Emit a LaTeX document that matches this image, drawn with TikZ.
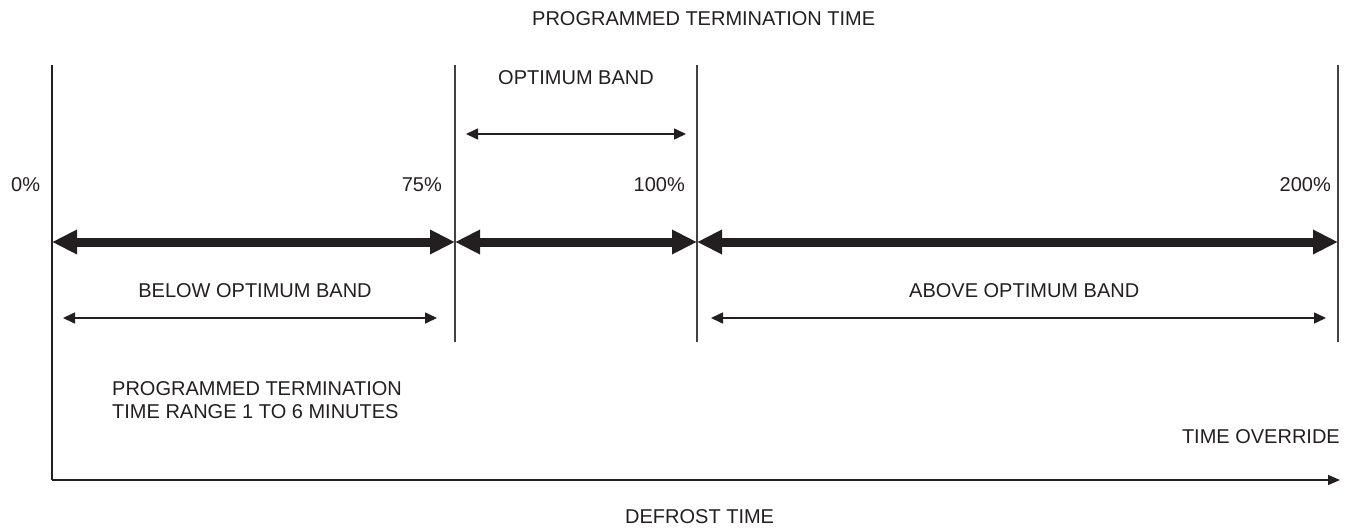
\documentclass[tikz,border=0pt]{standalone}
\usepackage{fontspec}
\setmainfont{Liberation Sans}
\usetikzlibrary{arrows.meta}
\definecolor{ink}{HTML}{231F20}
\begin{document}
\begin{tikzpicture}[x=1pt,y=-1pt,
  lbl/.style={inner sep=0pt,text=ink,font=\fontsize{20}{23}\selectfont},
  vline/.style={draw=ink!85,line width=1.2pt},
  thick/.style={draw=ink,line width=9pt,{Triangle[length=25pt,width=23pt]}-{Triangle[length=25pt,width=23pt]}},
  thin/.style={draw=ink,line width=1.6pt,{Triangle[length=12pt,width=11pt]}-{Triangle[length=12pt,width=11pt]}},
  axis/.style={draw=ink,line width=1.4pt,-{Triangle[length=12pt,width=10pt]}}]
\useasboundingbox (0,0) rectangle (1353,528);
% named points
\coordinate (a0) at (52,65);
\coordinate (o) at (52,480);
\coordinate (xend) at (1340,480);
\coordinate (b0) at (455,65);  \coordinate (b1) at (455,342);
\coordinate (c0) at (697,65);  \coordinate (c1) at (697,342);
\coordinate (d0) at (1338,65); \coordinate (d1) at (1338,342);
\coordinate (t0) at (52,242); \coordinate (t1) at (455,242);
\coordinate (t2) at (697,242); \coordinate (t3) at (1338,242);
\coordinate (ob0) at (466,134); \coordinate (ob1) at (686,134);
\coordinate (bb0) at (63,318); \coordinate (bb1) at (437,318);
\coordinate (ab0) at (711,318); \coordinate (ab1) at (1326,318);
% lines
\draw[draw=ink,line width=2.2pt] (a0) -- (o);
\draw[axis] (o) -- (xend);
\draw[vline] (b0) -- (b1);
\draw[vline] (c0) -- (c1);
\draw[vline] (d0) -- (d1);
\draw[thick] (t0) -- (t1);
\draw[thick] (t1) -- (t2);
\draw[thick] (t2) -- (t3);
\draw[thin] (ob0) -- (ob1);
\draw[thin] (bb0) -- (bb1);
\draw[thin] (ab0) -- (ab1);
% labels
\node[lbl,anchor=west] (ptt) at (532,19) {PROGRAMMED TERMINATION TIME};
\node[lbl] (opt) at (576,78) {OPTIMUM BAND};
\node[lbl,anchor=west] (p0) at (11,185) {0\%};
\node[lbl,anchor=east] (p75) at (442,185) {75\%};
\node[lbl,anchor=east] (p100) at (685,185) {100\%};
\node[lbl,anchor=east] (p200) at (1331,185) {200\%};
\node[lbl] (below) at (255,291) {BELOW OPTIMUM BAND};
\node[lbl,anchor=west] (above) at (909,291) {ABOVE OPTIMUM BAND};
\node[lbl,anchor=west] (range1) at (112,389) {PROGRAMMED TERMINATION};
\node[lbl,anchor=west] (range2) at (112,412) {TIME RANGE 1 TO 6 MINUTES};
\node[lbl,anchor=east] (override) at (1340,437) {TIME OVERRIDE};
\node[lbl,anchor=west] (defrost) at (625,517) {DEFROST TIME};
\end{tikzpicture}
\end{document}
